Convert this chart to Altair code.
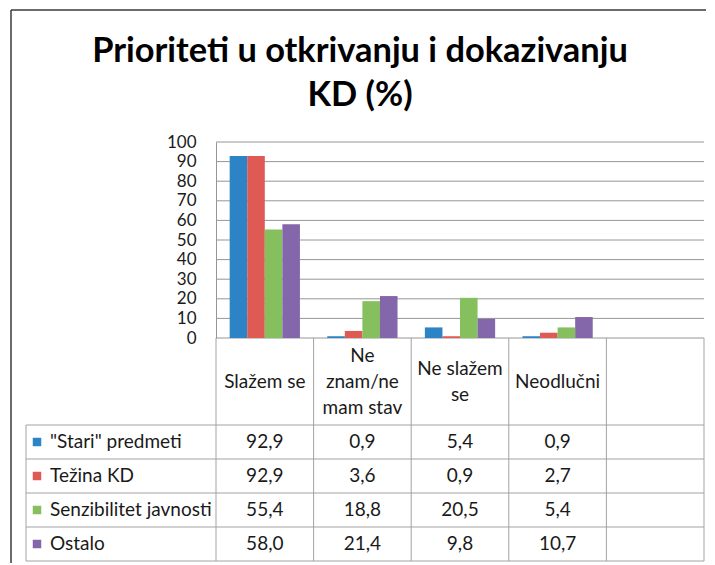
import altair as alt
import pandas as pd

# ---------------- data ----------------
TITLE_LINES = ["Prioriteti u otkrivanju i dokazivanju", "KD (%)"]
CATEGORIES = ["Slažem se", "Ne znam/ne mam stav", "Ne slažem se", "Neodlučni", ""]
CATEGORY_HEADERS = ["Slažem se", "Ne\nznam/ne\nmam stav", "Ne slažem\nse", "Neodlučni", ""]
SERIES = ['"Stari" predmeti', "Težina KD", "Senzibilitet javnosti", "Ostalo"]
COLORS = ["#2C83C6", "#E05A55", "#86BF5E", "#8467AA"]
STARI = [92.9, 0.9, 5.4, 0.9]
TEZINA = [92.9, 3.6, 0.9, 2.7]
SENZIBILITET = [55.4, 18.8, 20.5, 5.4]
OSTALO = [58.0, 21.4, 9.8, 10.7]
Y_TICKS = list(range(0, 101, 10))

# ---------------- layout ----------------
FONT = "Lato"
W, H = 678, 419          # whole drawing area (legend column + plot + table)
PX0 = 190                # left edge of the plot / data columns
PH = 196                 # plot height
HH = 87                  # header row height
LH = 26                  # header line height
GRID = "#969696"
TBL = "#a3a3a3"
TXT = "#1a1a1a"

rows = []
for s, vals in zip(SERIES, [STARI, TEZINA, SENZIBILITET, OSTALO]):
    for c, v in zip(CATEGORIES, vals):
        rows.append({"series": s, "cat": c, "value": v,
                     "label": f"{v:.1f}".replace(".", ",")})
df = pd.DataFrame(rows)
cats_df = pd.DataFrame({"cat": CATEGORIES, "header": CATEGORY_HEADERS})
ser_df = pd.DataFrame({"series": SERIES})
ticks_df = pd.DataFrame({"tick": Y_TICKS})
title_df = pd.DataFrame({"t": ["\n".join(TITLE_LINES)]})

x_bar = alt.Scale(domain=CATEGORIES, range=[PX0, W], paddingInner=0.28, paddingOuter=0.14)
x_tab = alt.Scale(domain=CATEGORIES, range=[PX0, W], paddingInner=0, paddingOuter=0)
y_val = alt.Scale(domain=[0, 100], range=[PH, 0])
y_row = alt.Scale(domain=SERIES, range=[PH + HH, H], paddingInner=0, paddingOuter=0)
col = alt.Scale(domain=SERIES, range=COLORS)

frame_left = alt.Chart(title_df).mark_rule(color="#3a3a3a", strokeWidth=1.5).encode(
    x=alt.value(-15), y=alt.value(-132), y2=alt.value(H + 2))
frame_top = alt.Chart(title_df).mark_rule(color="#3a3a3a", strokeWidth=1.5).encode(
    x=alt.value(-15), x2=alt.value(W + 2), y=alt.value(-132))

title = alt.Chart(title_df).mark_text(
    font=FONT, fontWeight="bold", fontSize=34.4, lineBreak="\n", lineHeight=44,
    align="center", baseline="alphabetic", color="#000000").encode(
    x=alt.value(334), y=alt.value(-80), text="t:N")

grid = alt.Chart(ticks_df).mark_rule(color=GRID, strokeWidth=1).encode(
    y=alt.Y("tick:Q", scale=y_val, axis=None), x=alt.value(PX0), x2=alt.value(W))

hlines = alt.Chart(ser_df).mark_rule(color=TBL, strokeWidth=1).encode(
    y=alt.Y("series:N", scale=y_row, axis=None, bandPosition=0),
    x=alt.value(0), x2=alt.value(W))
hline_bottom = alt.Chart(ser_df.tail(1)).mark_rule(color=TBL, strokeWidth=1).encode(
    y=alt.Y("series:N", scale=y_row, axis=None, bandPosition=1),
    x=alt.value(0), x2=alt.value(W))
vlines = alt.Chart(cats_df).mark_rule(color=TBL, strokeWidth=1).encode(
    x=alt.X("cat:N", scale=x_tab, axis=None, bandPosition=0),
    y=alt.value(PH), y2=alt.value(H))
vline_right = alt.Chart(cats_df.tail(1)).mark_rule(color=TBL, strokeWidth=1).encode(
    x=alt.X("cat:N", scale=x_tab, axis=None, bandPosition=1),
    y=alt.value(PH), y2=alt.value(H))
vline_left = alt.Chart(ser_df.head(1)).mark_rule(color=TBL, strokeWidth=1).encode(
    x=alt.value(0), y=alt.value(PH + HH), y2=alt.value(H))

bars = alt.Chart(df).mark_bar().encode(
    x=alt.X("cat:N", scale=x_bar, axis=None),
    xOffset=alt.XOffset("series:N", scale=alt.Scale(domain=SERIES, paddingInner=0, paddingOuter=0)),
    y=alt.Y("value:Q", scale=y_val, axis=alt.Axis(
        values=Y_TICKS, offset=-PX0, grid=False, ticks=False, domainColor=GRID,
        labelFont=FONT, labelFontSize=17, labelPadding=20, labelColor=TXT, title=None)),
    color=alt.Color("series:N", scale=col, legend=None),
)

header = alt.Chart(cats_df).transform_calculate(
    ypos=f"{PH + HH / 2} - (length(split(datum.header, '\\n')) - 1) * {LH / 2}"
).mark_text(
    font=FONT, fontSize=19, lineBreak="\n", lineHeight=LH, color=TXT,
    align="center", baseline="middle").encode(
    x=alt.X("cat:N", scale=x_tab, axis=None),
    y=alt.Y("ypos:Q", scale=None, axis=None), text="header:N")

cells = alt.Chart(df).mark_text(
    font=FONT, fontSize=19, color=TXT, align="center", baseline="middle").encode(
    x=alt.X("cat:N", scale=x_tab, axis=None),
    y=alt.Y("series:N", scale=y_row, axis=None), text="label:N")

squares = alt.Chart(ser_df).mark_square(size=72, filled=True, opacity=1).encode(
    x=alt.value(11), y=alt.Y("series:N", scale=y_row, axis=None),
    color=alt.Color("series:N", scale=col, legend=None))
legend_text = alt.Chart(ser_df).mark_text(
    font=FONT, fontSize=19, color=TXT, align="left", baseline="middle").encode(
    x=alt.value(24), y=alt.Y("series:N", scale=y_row, axis=None), text="series:N")

chart = alt.layer(
    frame_left, frame_top, title, grid, hlines, hline_bottom, vlines, vline_right,
    vline_left, bars, header, cells, squares, legend_text,
).resolve_scale(x="independent", y="independent").properties(
    width=W, height=H, padding={"left": 2, "top": 1, "right": 0, "bottom": 0},
    background="white",
).configure_view(stroke=None)

chart.save("out.html", embed_options={"renderer": "svg", "actions": False})
